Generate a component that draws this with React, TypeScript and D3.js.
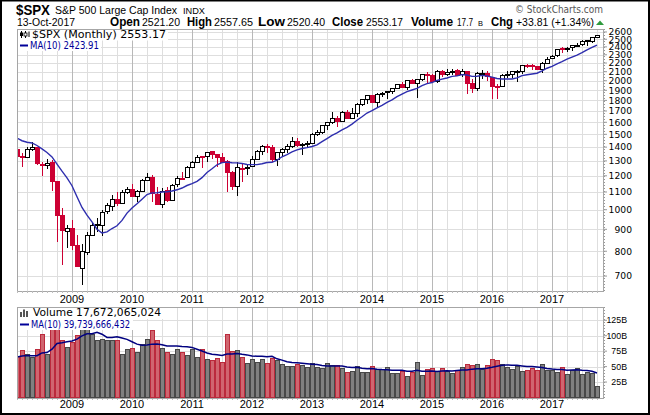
import React from "react";
import * as d3 from "d3";

// monthly bars, Feb 2008 .. Oct 2017 (117 months)
const opens = [
  1378.6, 1330.45, 1326.41, 1385.97, 1399.62, 1276.69, 1269.42, 1287.83, 1164.17, 968.67, 888.61,
  902.99, 823.09, 729.57, 793.59, 872.74, 923.26, 920.82, 990.22, 1019.52, 1054.91, 1036.18, 1098.89,
  1116.56, 1073.89, 1105.36, 1171.23, 1188.58, 1087.3, 1031.1, 1107.53, 1049.72, 1143.49, 1185.71, 1186.6,
  1257.62, 1289.14, 1328.64, 1329.48, 1365.21, 1345.2, 1320.64, 1292.59, 1219.12, 1131.21, 1251.0, 1246.91,
  1258.86, 1312.45, 1365.9, 1408.47, 1397.86, 1309.87, 1362.33, 1379.32, 1406.54, 1440.9, 1412.2, 1416.18,
  1426.19, 1498.11, 1514.68, 1569.18, 1597.55, 1631.71, 1609.78, 1689.42, 1635.95, 1681.34, 1758.7, 1806.55,
  1845.86, 1782.68, 1857.68, 1873.96, 1884.39, 1923.87, 1962.29, 1929.8, 2004.07, 1971.44, 2018.21, 2065.78,
  2058.9, 1996.67, 2105.23, 2067.63, 2087.38, 2108.64, 2067.0, 2104.49, 1970.09, 1919.65, 2080.76, 2082.93,
  2038.2, 1936.94, 1937.09, 2056.62, 2067.17, 2093.94, 2099.34, 2173.15, 2171.33, 2164.33, 2128.68, 2200.17,
  2251.57, 2285.59, 2380.13, 2362.34, 2388.5, 2415.65, 2431.39, 2477.1, 2474.42, 2521.2,
];
const highs = [
  1396.02, 1359.68, 1404.57, 1440.24, 1404.05, 1292.17, 1313.15, 1303.04, 1167.03, 1007.51, 918.85,
  943.85, 875.01, 832.98, 888.7, 930.17, 956.23, 996.68, 1039.47, 1080.15, 1101.36, 1113.69, 1130.38,
  1150.45, 1112.42, 1180.16, 1219.8, 1205.13, 1131.23, 1120.95, 1129.24, 1148.9, 1196.14, 1227.08, 1262.6,
  1302.67, 1344.07, 1332.28, 1364.56, 1370.58, 1345.2, 1356.48, 1307.38, 1229.29, 1292.66, 1277.55, 1269.37,
  1333.47, 1378.04, 1419.15, 1422.38, 1415.32, 1363.46, 1391.74, 1426.68, 1474.51, 1470.96, 1434.27, 1448.0,
  1509.94, 1530.94, 1570.28, 1597.57, 1687.18, 1654.19, 1698.78, 1709.67, 1729.86, 1775.22, 1813.55, 1849.44,
  1850.84, 1867.92, 1883.97, 1897.28, 1924.03, 1968.17, 1991.39, 2005.04, 2019.26, 2018.19, 2075.76, 2093.55,
  2072.36, 2119.59, 2117.52, 2125.92, 2134.72, 2129.87, 2132.82, 2112.66, 2020.86, 2094.32, 2116.48, 2104.27,
  2038.2, 1962.96, 2072.21, 2111.05, 2103.48, 2120.55, 2177.09, 2193.81, 2187.87, 2169.6, 2214.1, 2277.53,
  2300.99, 2371.54, 2400.98, 2398.16, 2418.71, 2453.82, 2484.04, 2490.87, 2519.44, 2557.65,
];
const lows = [
  1316.75, 1256.98, 1324.35, 1373.07, 1272.0, 1200.44, 1247.45, 1106.42, 839.8, 741.02, 815.69,
  804.85, 734.52, 666.79, 783.32, 866.1, 888.86, 869.32, 978.51, 991.97, 1020.18, 1029.38, 1085.89,
  1071.59, 1044.5, 1101.36, 1170.69, 1040.78, 1028.33, 1010.91, 1039.7, 1048.08, 1131.87, 1173.0, 1186.6,
  1257.62, 1289.14, 1249.05, 1294.7, 1311.8, 1258.07, 1282.86, 1101.54, 1114.22, 1074.77, 1158.66, 1202.37,
  1258.86, 1312.45, 1340.03, 1357.38, 1291.98, 1266.74, 1325.41, 1354.65, 1396.56, 1403.28, 1343.35, 1398.11,
  1426.19, 1485.01, 1501.48, 1536.03, 1581.28, 1560.33, 1604.57, 1627.47, 1633.41, 1646.47, 1746.2, 1767.99,
  1770.45, 1737.92, 1834.44, 1814.36, 1859.79, 1915.98, 1930.67, 1904.78, 1964.04, 1820.66, 2001.01, 1972.56,
  1988.12, 1980.9, 2039.69, 2048.38, 2067.93, 2056.32, 2044.02, 1867.01, 1871.91, 1893.7, 2019.39, 1993.26,
  1812.29, 1810.1, 1931.81, 2033.8, 2025.91, 1991.68, 2074.02, 2147.58, 2119.12, 2114.72, 2083.79, 2187.44,
  2245.13, 2271.65, 2322.25, 2328.95, 2352.72, 2405.7, 2407.7, 2417.35, 2446.55, 2520.4,
];
const closes = [
  1330.63, 1322.7, 1385.59, 1400.38, 1280.0, 1267.38, 1282.83, 1166.36, 968.75, 896.24, 903.25,
  825.88, 735.09, 797.87, 872.81, 919.14, 919.32, 987.48, 1020.62, 1057.08, 1036.19, 1095.63, 1115.1,
  1073.87, 1104.49, 1169.43, 1186.69, 1089.41, 1030.71, 1101.6, 1049.33, 1141.2, 1183.26, 1180.55, 1257.64,
  1286.12, 1327.22, 1325.83, 1363.61, 1345.2, 1320.64, 1292.28, 1218.89, 1131.42, 1253.3, 1246.96, 1257.6,
  1312.41, 1365.68, 1408.47, 1397.91, 1310.33, 1362.16, 1379.32, 1406.58, 1440.67, 1412.16, 1416.18, 1426.19,
  1498.11, 1514.68, 1569.19, 1597.57, 1630.74, 1606.28, 1685.73, 1632.97, 1681.55, 1756.54, 1805.81, 1848.36,
  1782.59, 1859.45, 1872.34, 1883.95, 1923.57, 1960.23, 1930.67, 2003.37, 1972.29, 2018.05, 2067.56, 2058.9,
  1994.99, 2104.5, 2067.89, 2085.51, 2107.39, 2063.11, 2103.84, 1972.18, 1920.03, 2079.36, 2080.41, 2043.94,
  1940.24, 1932.23, 2059.74, 2065.3, 2096.95, 2098.86, 2173.6, 2170.95, 2168.27, 2126.15, 2198.81, 2238.83,
  2278.87, 2363.64, 2362.72, 2384.2, 2411.8, 2423.41, 2470.3, 2471.65, 2519.36, 2553.17,
];
// volume in billions
const volumes = [
  65.6, 76, 69, 65.5, 77.5, 101.5, 69, 125, 145, 92, 81.5,
  88.5, 100, 118, 112, 102.5, 92, 93.5, 92, 92.5, 92, 69, 77.5,
  80, 73, 86, 94, 108, 93, 80, 72.6, 69, 77, 72.6, 68,
  77, 64.5, 78, 62, 60, 63, 56.5, 101.5, 73.7, 75.8, 64.5, 54.8,
  61.3, 56.5, 61.3, 54.8, 62.9, 60.2, 53.2, 50, 50, 53.2, 51.6, 48.4,
  54.8, 48.9, 46.8, 54.8, 51.6, 51.6, 46.8, 40.3, 42.5, 50, 40.3, 40.3,
  50, 45.2, 45.2, 48.9, 38.7, 38.7, 42.5, 34.4, 40.3, 56.5, 36, 45.2,
  46.8, 42.5, 46.8, 42.5, 38.7, 43.5, 48.4, 53.2, 51.6, 53.2, 45.7, 51.6,
  61.8, 59.7, 53.2, 48.4, 45.2, 50, 42.5, 43.5, 46.8, 43.5, 53.2, 43.5,
  43, 41, 48, 38, 44.5, 47, 38, 41, 39.5, 17.67,
];
// May 2007 .. Jan 2008, for the start of the moving averages
const priorCloses = [1530.62, 1503.35, 1455.27, 1473.99, 1526.75, 1549.38, 1481.14, 1468.36, 1378.55];
const priorVolumes = [60, 62, 68, 78, 56, 62, 70, 54, 80];

const yearLabels = ["2009", "2010", "2011", "2012", "2013", "2014", "2015", "2016", "2017"];
const priceTicks = [700, 800, 900, 1000, 1100, 1200, 1300, 1400, 1500, 1600, 1700, 1800, 1900, 2000, 2100, 2200, 2300, 2400, 2500, 2600];
const volumeTicks = [25, 50, 75, 100, 125];

// header line 2: [text, x, width, bold]
const quoteBits: [string, number, number, boolean][] = [
  ["Open", 110, 30, true], ["2521.20", 142, 38, false],
  ["High", 187, 25, true], ["2557.65", 214, 39, false],
  ["Low", 258, 27, true], ["2520.40", 287, 38, false],
  ["Close", 332, 31, true], ["2553.17", 366, 37, false],
  ["Volume", 411, 42, true], ["17.7", 457, 16, false],
  ["Chg", 491, 22, true], ["+33.81 (+1.34%)", 516, 78, false],
];

const RED = "#cc0033";
const FONT = "'Liberation Sans', Arial, sans-serif";
const LEG = "'DejaVu Sans', Verdana, sans-serif";

const L = 17, R = 604;
const PT = 29, PB = 291, VT = 307, VB = 398;

const movingAvg = (vals: number[], prior: number[], n: number) => {
  const all = prior.concat(vals);
  return vals.map((_, i) => d3.mean(all.slice(i + prior.length - n + 1, i + prior.length + 1)) as number);
};

const App: React.FC = () => {
  const x = d3.scaleLinear().domain([0, 117.4]).range([L, R]);
  const yP = d3.scaleLog().domain([646, 2642]).range([PB, PT]);
  const yV = d3.scaleLinear().domain([0, 146.5]).range([397.5, VT]);

  const prevClose = (i: number) => (i === 0 ? priorCloses[priorCloses.length - 1] : closes[i - 1]);
  const priceMA = movingAvg(closes, priorCloses, 10);
  const volMA = movingAvg(volumes, priorVolumes, 10);

  const maLine = d3.line<number>().x((_, i) => x(i)).y(d => yP(d));
  const vmaLine = d3.line<number>().x((_, i) => x(i)).y(d => yV(d));

  const months = d3.range(closes.length);
  const monthOf = (i: number) => (1 + i) % 12; // 0 = January
  const gridIdx = months.filter(i => monthOf(i) % 3 === 0);
  const yearIdx = months.filter(i => monthOf(i) === 0);

  const vGrid = (top: number, bottom: number) =>
    gridIdx.map(i => (
      <line key={i} x1={Math.round(x(i)) + 0.5} x2={Math.round(x(i)) + 0.5} y1={top} y2={bottom}
        stroke={monthOf(i) === 0 ? "#b8b8b8" : "#dedede"} strokeWidth={1} />
    ));

  return (
    <svg width={650} height={415} style={{ position: "absolute", left: 0, top: 0, background: "#fff" }}
      fontFamily={FONT}>
      <defs>
        <clipPath id="pclip"><rect x={L} y={PT} width={R - L} height={PB - PT} /></clipPath>
        <clipPath id="vclip"><rect x={L} y={VT} width={R - L} height={VB - VT} /></clipPath>
      </defs>
      <rect x={0} y={0} width={650} height={415} fill="#fff" />

      {/* header */}
      <text x={16} y={14.5} fontSize={14.5} fontWeight="bold" textLength={34} lengthAdjust="spacingAndGlyphs">$SPX</text>
      <text x={55} y={14} fontSize={11} textLength={122} lengthAdjust="spacingAndGlyphs">S&amp;P 500 Large Cap Index</text>
      <text x={183} y={14} fontSize={9} textLength={22} lengthAdjust="spacingAndGlyphs">INDX</text>
      <text x={515} y={13} fontSize={10.5} fill="#555" fontFamily={LEG} textLength={88} lengthAdjust="spacingAndGlyphs">© StockCharts.com</text>
      <text x={17} y={26} fontSize={11} textLength={58} lengthAdjust="spacingAndGlyphs">13-Oct-2017</text>
      {quoteBits.map(([t, tx, w, b]) => (
        <text key={t} x={tx} y={26} fontSize={b ? 12 : 11} fontWeight={b ? "bold" : "normal"}
          textLength={w} lengthAdjust="spacingAndGlyphs">{t}</text>
      ))}
      <text x={478} y={26} fontSize={7.5} textLength={5} lengthAdjust="spacingAndGlyphs">B</text>
      <polygon points="596,25 604,25 600,20.5" fill="#2e9a3c" />

      {/* price panel */}
      <g>
        {priceTicks.map(t => (
          <line key={t} x1={L} x2={R} y1={Math.round(yP(t)) + 0.5} y2={Math.round(yP(t)) + 0.5} stroke="#dedede" />
        ))}
        {vGrid(PT, PB)}
      </g>
      <g clipPath="url(#pclip)">
        {months.map(i => {
          const o = opens[i], c = closes[i];
          const col = c < prevClose(i) ? RED : "#000";
          const top = yP(Math.max(o, c)), bot = yP(Math.min(o, c));
          const cx = Math.round(x(i));
          return (
            <g key={i} shapeRendering="crispEdges">
              <line x1={cx + 0.5} x2={cx + 0.5} y1={yP(highs[i])} y2={yP(lows[i])} stroke={col} strokeWidth={1} />
              <rect x={cx - 1.5} y={top} width={3.5} height={Math.max(1, bot - top)}
                fill={c >= o ? "#fff" : col} stroke={col} strokeWidth={1} />
            </g>
          );
        })}
        <path d={maLine(priceMA) ?? ""} fill="none" stroke="#2e2eae" strokeWidth={1.4} />
      </g>
      <rect x={L + 0.5} y={PT + 0.5} width={R - L - 1} height={PB - PT} fill="none" stroke="#a6a6a6" />
      <line x1={R + 0.5} x2={R + 0.5} y1={PT} y2={PB} stroke="#999" strokeDasharray="1,2" />
      {priceTicks.map(t => (
        <g key={t}>
          <line x1={R} x2={R + 3} y1={yP(t)} y2={yP(t)} stroke="#999" />
          <text x={632} y={yP(t)} dy="0.36em" textAnchor="end" fontSize={9.2} fontFamily={LEG}>{t}</text>
        </g>
      ))}
      {/* price legend */}
      <rect x={L + 1} y={PT + 1} width={150} height={10.5} fill="#fff" />
      <rect x={L + 1} y={PT + 11.5} width={83} height={10.5} fill="#fff" />
      <g>
        <line x1={21.5} x2={21.5} y1={31} y2={38} stroke="#000" />
        <rect x={20} y={32.5} width={3} height={3.5} fill="#000" />
        <line x1={25.5} x2={25.5} y1={31} y2={38} stroke="#000" />
        <rect x={24} y={33} width={3} height={3} fill="#fff" stroke="#000" strokeWidth={0.8} />
        <line x1={29} x2={29} y1={31.5} y2={37} stroke="#000" />
      </g>
      <text x={32} y={38} fontSize={10} fontFamily={LEG} textLength={134} lengthAdjust="spacingAndGlyphs">$SPX (Monthly) 2553.17</text>
      <line x1={20} x2={28} y1={45.5} y2={45.5} stroke="#000099" strokeWidth={2} />
      <text x={30} y={49} fontSize={10} fontFamily={LEG} fill="#000099" textLength={69} lengthAdjust="spacingAndGlyphs">MA(10) 2423.91</text>

      {/* x labels */}
      {yearLabels.map((yl, k) => (
        <g key={yl} fontSize={11} textAnchor="middle">
          <text x={x(yearIdx[k])} y={303}>{yl}</text>
          <text x={x(yearIdx[k])} y={408}>{yl}</text>
        </g>
      ))}
      {months.map(i => (
        <g key={i} stroke="#bdbdbd">
          <line x1={Math.round(x(i)) + 0.5} x2={Math.round(x(i)) + 0.5} y1={PB} y2={PB + 2} />
          <line x1={Math.round(x(i)) + 0.5} x2={Math.round(x(i)) + 0.5} y1={VB} y2={VB + 2} />
        </g>
      ))}

      {/* volume panel */}
      <g>
        {volumeTicks.map(t => (
          <line key={t} x1={L} x2={R} y1={Math.round(yV(t)) + 0.5} y2={Math.round(yV(t)) + 0.5} stroke="#dedede" />
        ))}
        {vGrid(VT, VB)}
      </g>
      <g clipPath="url(#vclip)" shapeRendering="crispEdges">
        {months.map(i => {
          const down = closes[i] < prevClose(i);
          const cx = Math.round(x(i));
          return (
            <rect key={i} x={cx - 1.5} y={yV(volumes[i])} width={4} height={yV(0) - yV(volumes[i])}
              fill={down ? "#d0656f" : "#808080"} stroke={down ? "#bb2a3c" : "#484848"} strokeWidth={1} />
          );
        })}
      </g>
      <g clipPath="url(#vclip)">
        <path d={vmaLine(volMA) ?? ""} fill="none" stroke="#000080" strokeWidth={1.5} />
      </g>
      <rect x={L + 0.5} y={VT + 0.5} width={R - L - 1} height={VB - VT} fill="none" stroke="#a6a6a6" />
      <line x1={R + 0.5} x2={R + 0.5} y1={VT} y2={VB} stroke="#999" strokeDasharray="1,2" />
      {volumeTicks.map(t => (
        <g key={t}>
          <line x1={R} x2={R + 3} y1={yV(t)} y2={yV(t)} stroke="#999" />
          <text x={627} y={yV(t)} dy="0.36em" textAnchor="end" fontSize={8.8}>{t}B</text>
        </g>
      ))}
      {/* volume legend */}
      <rect x={L + 1} y={VT + 1} width={146} height={11} fill="#fff" />
      <rect x={L + 1} y={VT + 12} width={115} height={11} fill="#fff" />
      <g fill="#555">
        <rect x={20} y={312} width={2} height={5} />
        <rect x={23} y={309.5} width={2} height={7.5} />
        <rect x={26} y={311} width={2} height={6} />
      </g>
      <text x={33} y={316} fontSize={10} fontFamily={LEG} textLength={128} lengthAdjust="spacingAndGlyphs">Volume 17,672,065,024</text>
      <line x1={20} x2={29} y1={324.5} y2={324.5} stroke="#000099" strokeWidth={2} />
      <text x={31} y={328} fontSize={10} fontFamily={LEG} fill="#000099" textLength={99} lengthAdjust="spacingAndGlyphs">MA(10) 39,739,666,432</text>

      {/* outer frame */}
      <rect x={1} y={0.5} width={648} height={413.5} fill="none" stroke="#000" strokeWidth={2} />
    </svg>
  );
};

export default App;
